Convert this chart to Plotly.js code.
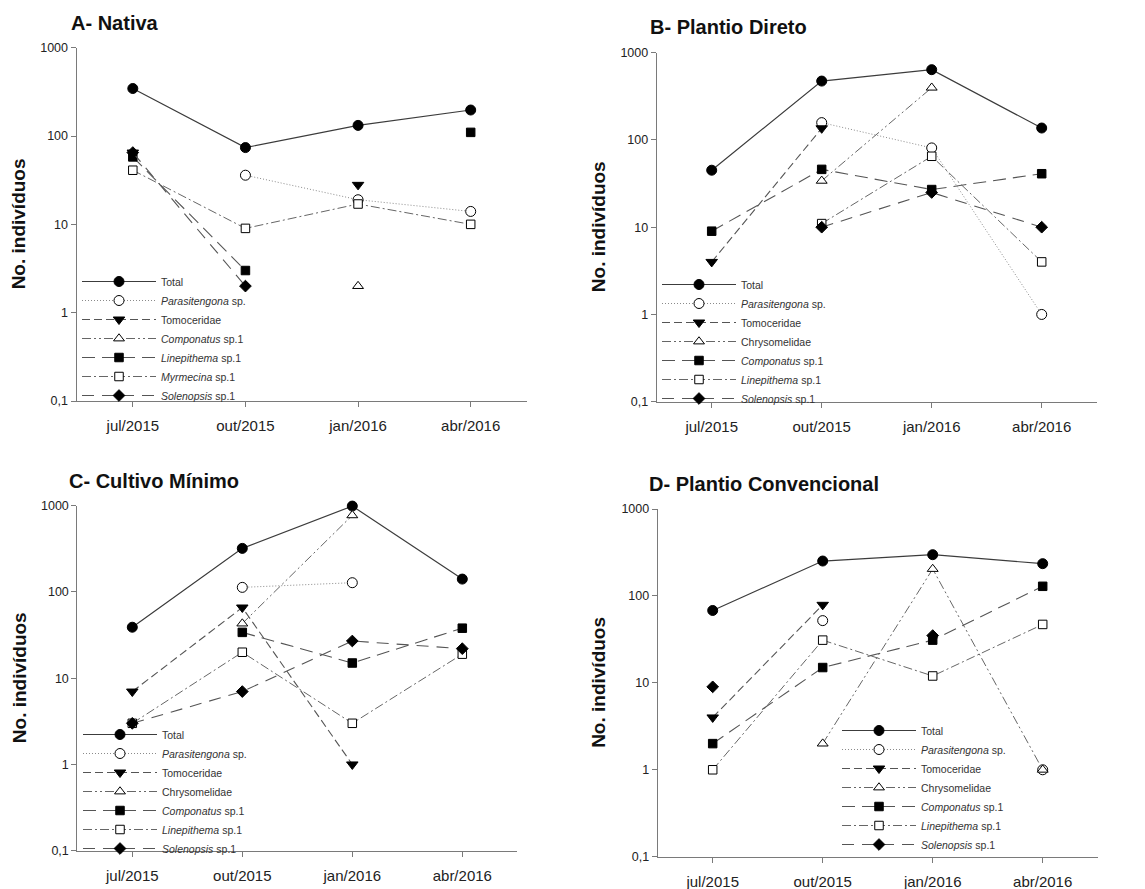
<!DOCTYPE html>
<html><head><meta charset="utf-8">
<script src="https://cdn.plot.ly/plotly-3.0.1.min.js"></script>
<style>html,body{margin:0;padding:0;background:#fff}#chart{width:1145px;height:889px}</style>
</head><body><div id="chart"></div>
<script>
// ---- data ----
const months = ['jul/2015', 'out/2015', 'jan/2016', 'abr/2016'];
const yTickVals = [0.1, 1, 10, 100, 1000];
const yTickText = ['0,1', '1', '10', '100', '1000'];

const panelTitles = ['A- Nativa', 'B- Plantio Direto', 'C- Cultivo Mínimo', 'D- Plantio Convencional'];
const yTitle = 'No. indivíduos';

const namesA = ['Total', '<i>Parasitengona</i> sp.', 'Tomoceridae', '<i>Componatus</i> sp.1', '<i>Linepithema</i> sp.1', '<i>Myrmecina</i> sp.1', '<i>Solenopsis</i> sp.1'];
const namesBCD = ['Total', '<i>Parasitengona</i> sp.', 'Tomoceridae', 'Chrysomelidae', '<i>Componatus</i> sp.1', '<i>Linepithema</i> sp.1', '<i>Solenopsis</i> sp.1'];

// A - Nativa
const totalA   = [345, 74, 132, 197];
const parasitA = [null, 36, 19, 14];
const tomoA    = [65, null, 28, null];
const componA  = [null, null, 2, null];
const linepA   = [58, 3, null, 110];
const myrmA    = [41, 9, 17, 10];
const solenA   = [65, 2, null, null];

// B - Plantio Direto
const totalB   = [45, 473, 639, 137];
const parasitB = [null, 158, 81, 1];
const tomoB    = [4, 136, null, null];
const chrysB   = [null, 34, 397, null];
const componB  = [9, 46, 27, 41];
const linepB   = [null, 11, 65, 4];
const solenB   = [null, 10, 25, 10];

// C - Cultivo Mínimo
const totalC   = [39, 320, 990, 141];
const parasitC = [null, 113, 128, null];
const tomoC    = [7, 66, 1, null];
const chrysC   = [null, 43, 773, null];
const componC  = [null, 34, 15, 38];
const linepC   = [3, 20, 3, 19];
const solenC   = [3, 7, 27, 22];

// D - Plantio Convencional
const totalD   = [68, 252, 298, 235];
const parasitD = [null, 52, null, 1];
const tomoD    = [4, 79, null, null];
const chrysD   = [null, 2, 204, 1];
const componD  = [2, 15, 31, 129];
const linepD   = [1, 31, 12, 47];
const solenD   = [9, null, 35, null];

// ---- styles (per series position) ----
const styles = [
  {symbol: 'circle',        fill: '#000', dash: 'solid',                   color: '#3c3c3c', size: 10,  w: 1.2},
  {symbol: 'circle',        fill: '#fff', dash: '1px,2px',                 color: '#8a8a8a', size: 10,  w: 1},
  {symbol: 'triangle-down', fill: '#000', dash: '8px,4px',                 color: '#555',    size: 10,  w: 1.1},
  {symbol: 'triangle-up',   fill: '#fff', dash: '9px,3px,2px,3px,2px,3px', color: '#666',    size: 9.5, w: 1},
  {symbol: 'square',        fill: '#000', dash: '13px,7px',                color: '#555',    size: 8.5, w: 1.1},
  {symbol: 'square',        fill: '#fff', dash: '9px,3px,2px,3px',         color: '#666',    size: 8.5, w: 1},
  {symbol: 'diamond',       fill: '#000', dash: '12px,8px',                color: '#555',    size: 9,   w: 1.1}
];

const panels = [
  {series: [totalA, parasitA, tomoA, componA, linepA, myrmA, solenA], names: namesA},
  {series: [totalB, parasitB, tomoB, chrysB, componB, linepB, solenB], names: namesBCD},
  {series: [totalC, parasitC, tomoC, chrysC, componC, linepC, solenC], names: namesBCD},
  {series: [totalD, parasitD, tomoD, chrysD, componD, linepD, solenD], names: namesBCD}
];

const W = 1145, H = 889;
const fx = p => p / W;
const fy = p => 1 - p / H;

// plot boxes in pixels [x0, x1, ytop, ybottom]
const boxes = [
  [76.5, 527, 47.7, 401],
  [656.7, 1096.7, 52.7, 401.7],
  [77.3, 517.3, 505.7, 850.7],
  [657.7, 1097.7, 509, 856.7]
];
const titlePos = [[69, 23], [648, 27], [67, 481], [647, 484]];
const yTitlePos = [18, 598, 19, 599];
const legendPos = [[77, 267], [657, 270], [78, 720], [837, 716]];

const traces = [];
const layout = {
  width: W, height: H,
  margin: {l: 0, r: 0, t: 0, b: 0},
  paper_bgcolor: '#fff', plot_bgcolor: '#fff',
  font: {family: 'Liberation Sans, Arial, sans-serif', color: '#222'},
  showlegend: true,
  annotations: []
};

panels.forEach((p, i) => {
  const n = i + 1;
  const xa = n === 1 ? 'x' : 'x' + n;
  const ya = n === 1 ? 'y' : 'y' + n;
  const lg = n === 1 ? 'legend' : 'legend' + n;
  p.series.forEach((vals, j) => {
    const s = styles[j];
    traces.push({
      type: 'scatter', mode: 'lines+markers',
      x: months, y: vals, name: p.names[j],
      xaxis: xa, yaxis: ya, legend: lg,
      connectgaps: false, cliponaxis: false,
      line: {color: s.color, width: s.w, dash: s.dash},
      marker: {symbol: s.symbol, size: s.size, color: s.fill, line: {color: '#000', width: 1}},
      hoverinfo: 'x+y+name'
    });
  });
  const b = boxes[i];
  layout['xaxis' + (n === 1 ? '' : n)] = {
    domain: [fx(b[0]), fx(b[1])], anchor: ya,
    type: 'category', categoryorder: 'array', categoryarray: months,
    range: [-0.5, 3.5], fixedrange: true,
    showline: true, linecolor: '#7a7a7a', linewidth: 1,
    ticks: 'outside', ticklen: 5, tickcolor: '#7a7a7a', tickwidth: 1,
    ticklabelstandoff: 6,
    showgrid: false, zeroline: false,
    tickfont: {size: 15, color: '#222'}
  };
  layout['yaxis' + (n === 1 ? '' : n)] = {
    domain: [fy(b[3]), fy(b[2])], anchor: xa,
    type: 'log', range: [-1, 3], fixedrange: true,
    tickvals: yTickVals, ticktext: yTickText,
    showline: true, linecolor: '#7a7a7a', linewidth: 1,
    ticks: 'outside', ticklen: 5, tickcolor: '#7a7a7a', tickwidth: 1,
    showgrid: false, zeroline: false,
    tickfont: {size: 12.5, color: '#222'}
  };
  layout[lg] = {
    x: fx(legendPos[i][0]), y: fy(legendPos[i][1]),
    xanchor: 'left', yanchor: 'top',
    bgcolor: 'rgba(0,0,0,0)', borderwidth: 0,
    font: {size: 10.5, color: '#333'},
    itemwidth: 74, tracegroupgap: 0,
    itemclick: false, itemdoubleclick: false
  };
  layout.annotations.push({
    xref: 'paper', yref: 'paper', x: fx(titlePos[i][0]), y: fy(titlePos[i][1]),
    xanchor: 'left', yanchor: 'middle', showarrow: false,
    text: '<b>' + panelTitles[i] + '</b>', font: {size: 20, color: '#111'}
  });
  layout.annotations.push({
    xref: 'paper', yref: 'paper', x: fx(yTitlePos[i]), y: fy((b[2] + b[3]) / 2),
    xanchor: 'center', yanchor: 'middle', showarrow: false, textangle: -90,
    text: '<b>' + yTitle + '</b>', font: {size: 19, color: '#111'}
  });
});

Plotly.newPlot('chart', traces, layout, {displayModeBar: false, staticPlot: true});
</script></body></html>
